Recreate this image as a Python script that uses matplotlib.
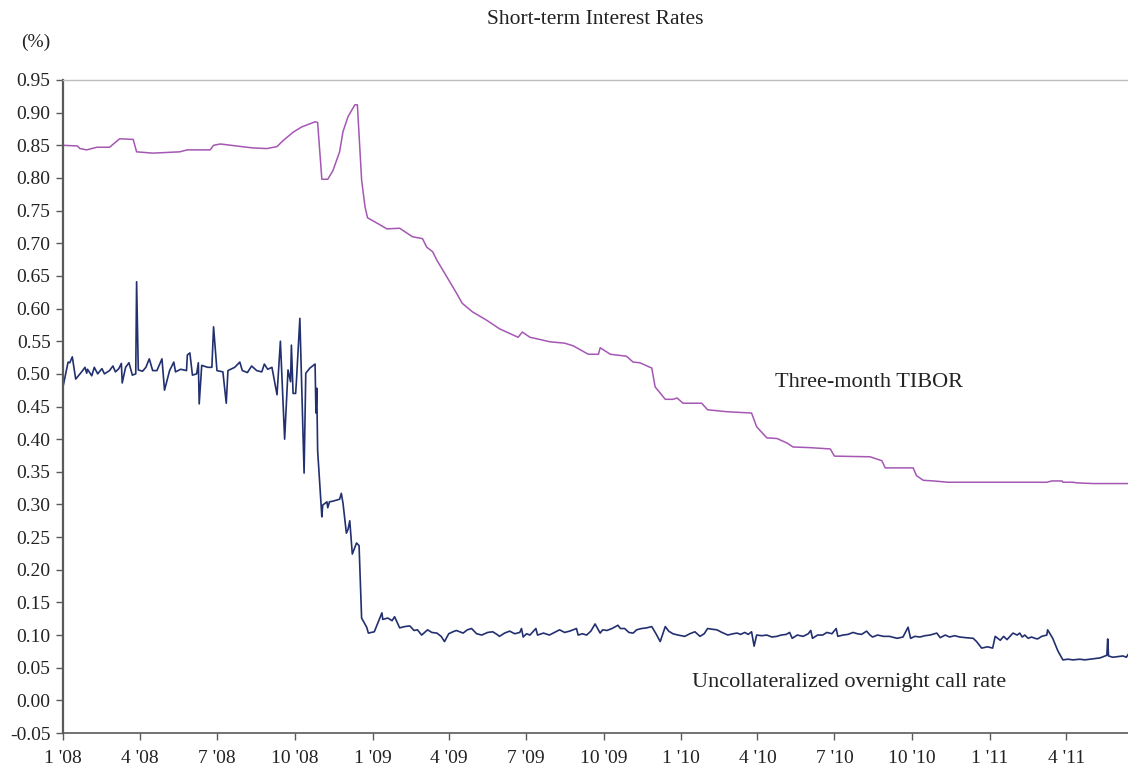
import matplotlib
matplotlib.use("Agg")
import matplotlib.pyplot as plt
import pandas as pd

plt.rcParams['font.family'] = ['Liberation Serif', 'DejaVu Serif']

# ---------------- data ----------------
tibor_dates = [
    "2008-01-01", "2008-01-18", "2008-01-21", "2008-01-29", "2008-02-10", "2008-02-25",
    "2008-03-08", "2008-03-24", "2008-03-28", "2008-04-16", "2008-05-18", "2008-05-27",
    "2008-06-23", "2008-06-27", "2008-07-05", "2008-08-12", "2008-08-29", "2008-09-10",
    "2008-09-17", "2008-09-29", "2008-10-09", "2008-10-25", "2008-10-28", "2008-11-02",
    "2008-11-09", "2008-11-15", "2008-11-23", "2008-11-27", "2008-12-03", "2008-12-11",
    "2008-12-14", "2008-12-19", "2008-12-23", "2008-12-26", "2009-01-06", "2009-01-18",
    "2009-02-02", "2009-02-17", "2009-03-01", "2009-03-06", "2009-03-13", "2009-03-18",
    "2009-03-30", "2009-04-10", "2009-04-17", "2009-04-29", "2009-05-16", "2009-05-31",
    "2009-06-22", "2009-06-27", "2009-07-06", "2009-07-20", "2009-07-30", "2009-08-16",
    "2009-08-26", "2009-09-13", "2009-09-25", "2009-09-27", "2009-10-09", "2009-10-28",
    "2009-11-05", "2009-11-13", "2009-11-25", "2009-11-27", "2009-12-01", "2009-12-13",
    "2009-12-22", "2009-12-27", "2010-01-03", "2010-01-25", "2010-02-01", "2010-02-24",
    "2010-03-25", "2010-03-31", "2010-04-12", "2010-04-24", "2010-05-06", "2010-05-13",
    "2010-06-02", "2010-06-26", "2010-07-01", "2010-08-12", "2010-08-26", "2010-08-30",
    "2010-10-02", "2010-10-06", "2010-10-14", "2010-10-26", "2010-11-12", "2011-03-09",
    "2011-03-15", "2011-03-27", "2011-03-28", "2011-04-09", "2011-04-14", "2011-05-03",
    "2011-06-13",
]
tibor_values = [
    0.850, 0.849, 0.845, 0.843, 0.847, 0.847,
    0.860, 0.859, 0.840, 0.838, 0.840, 0.843,
    0.843, 0.850, 0.852, 0.846, 0.845, 0.848,
    0.857, 0.870, 0.878, 0.886, 0.885, 0.798,
    0.798, 0.811, 0.840, 0.871, 0.894, 0.912,
    0.912, 0.797, 0.756, 0.739, 0.731, 0.722,
    0.723, 0.710, 0.707, 0.694, 0.687, 0.674,
    0.648, 0.624, 0.608, 0.595, 0.582, 0.569,
    0.556, 0.564, 0.556, 0.552, 0.549, 0.547,
    0.543, 0.530, 0.530, 0.540, 0.530, 0.527,
    0.518, 0.517, 0.510, 0.509, 0.480, 0.461,
    0.461, 0.463, 0.455, 0.455, 0.445, 0.442,
    0.440, 0.419, 0.402, 0.401, 0.394, 0.388,
    0.387, 0.385, 0.374, 0.373, 0.367, 0.356,
    0.356, 0.344, 0.337, 0.336, 0.334, 0.334,
    0.336, 0.336, 0.334, 0.334, 0.333, 0.332,
    0.332,
]

call_dates = [
    "2008-01-01", "2008-01-07", "2008-01-09", "2008-01-12", "2008-01-16", "2008-01-21",
    "2008-01-23", "2008-01-27", "2008-01-29", "2008-01-30", "2008-02-04", "2008-02-07",
    "2008-02-11", "2008-02-16", "2008-02-19", "2008-02-25", "2008-02-29", "2008-03-03",
    "2008-03-07", "2008-03-10", "2008-03-11", "2008-03-15", "2008-03-19", "2008-03-23",
    "2008-03-27", "2008-03-28", "2008-03-30", "2008-04-04", "2008-04-08", "2008-04-12",
    "2008-04-16", "2008-04-21", "2008-04-27", "2008-04-30", "2008-05-06", "2008-05-11",
    "2008-05-13", "2008-05-19", "2008-05-26", "2008-05-27", "2008-05-30", "2008-06-02",
    "2008-06-07", "2008-06-09", "2008-06-10", "2008-06-13", "2008-06-20", "2008-06-25",
    "2008-06-27", "2008-07-01", "2008-07-08", "2008-07-12", "2008-07-14", "2008-07-22",
    "2008-07-28", "2008-07-31", "2008-08-06", "2008-08-11", "2008-08-17", "2008-08-23",
    "2008-08-26", "2008-08-30", "2008-09-04", "2008-09-10", "2008-09-14", "2008-09-19",
    "2008-09-23", "2008-09-26", "2008-09-27", "2008-09-29", "2008-10-02", "2008-10-03",
    "2008-10-07", "2008-10-12", "2008-10-14", "2008-10-19", "2008-10-25", "2008-10-26",
    "2008-10-27", "2008-10-28", "2008-11-02", "2008-11-03", "2008-11-08", "2008-11-09",
    "2008-11-11", "2008-11-15", "2008-11-23", "2008-11-25", "2008-11-27", "2008-12-01",
    "2008-12-03", "2008-12-05", "2008-12-08", "2008-12-13", "2008-12-16", "2008-12-19",
    "2008-12-25", "2008-12-27", "2009-01-03", "2009-01-12", "2009-01-13", "2009-01-19",
    "2009-01-24", "2009-01-27", "2009-02-02", "2009-02-08", "2009-02-14", "2009-02-19",
    "2009-02-23", "2009-02-28", "2009-03-07", "2009-03-12", "2009-03-18", "2009-03-23",
    "2009-03-27", "2009-04-01", "2009-04-06", "2009-04-10", "2009-04-18", "2009-04-23",
    "2009-04-28", "2009-05-04", "2009-05-10", "2009-05-17", "2009-05-23", "2009-05-28",
    "2009-05-31", "2009-06-06", "2009-06-12", "2009-06-18", "2009-06-24", "2009-06-26",
    "2009-06-28", "2009-07-02", "2009-07-06", "2009-07-13", "2009-07-15", "2009-07-22",
    "2009-07-29", "2009-08-04", "2009-08-10", "2009-08-16", "2009-08-22", "2009-08-30",
    "2009-09-01", "2009-09-06", "2009-09-11", "2009-09-16", "2009-09-21", "2009-09-27",
    "2009-09-30", "2009-10-05", "2009-10-11", "2009-10-18", "2009-10-21", "2009-10-26",
    "2009-10-31", "2009-11-05", "2009-11-09", "2009-11-15", "2009-11-21", "2009-11-27",
    "2009-12-02", "2009-12-07", "2009-12-13", "2009-12-17", "2009-12-22", "2009-12-28",
    "2010-01-05", "2010-01-11", "2010-01-17", "2010-01-23", "2010-01-28", "2010-02-01",
    "2010-02-06", "2010-02-12", "2010-02-18", "2010-02-25", "2010-03-03", "2010-03-08",
    "2010-03-12", "2010-03-17", "2010-03-21", "2010-03-25", "2010-03-28", "2010-03-31",
    "2010-04-06", "2010-04-12", "2010-04-18", "2010-04-24", "2010-04-29", "2010-05-05",
    "2010-05-09", "2010-05-12", "2010-05-18", "2010-05-25", "2010-05-31", "2010-06-03",
    "2010-06-05", "2010-06-11", "2010-06-17", "2010-06-22", "2010-06-28", "2010-07-03",
    "2010-07-05", "2010-07-11", "2010-07-17", "2010-07-23", "2010-07-28", "2010-08-02",
    "2010-08-08", "2010-08-12", "2010-08-15", "2010-08-21", "2010-08-28", "2010-09-04",
    "2010-09-13", "2010-09-20", "2010-09-26", "2010-09-29", "2010-10-04", "2010-10-10",
    "2010-10-16", "2010-10-22", "2010-10-30", "2010-11-03", "2010-11-09", "2010-11-14",
    "2010-11-20", "2010-11-26", "2010-12-03", "2010-12-12", "2010-12-16", "2010-12-22",
    "2010-12-29", "2011-01-04", "2011-01-07", "2011-01-13", "2011-01-17", "2011-01-21",
    "2011-01-26", "2011-01-28", "2011-02-02", "2011-02-05", "2011-02-08", "2011-02-11",
    "2011-02-15", "2011-02-19", "2011-02-23", "2011-02-26", "2011-03-03", "2011-03-09",
    "2011-03-10", "2011-03-16", "2011-03-22", "2011-03-28", "2011-04-03", "2011-04-09",
    "2011-04-17", "2011-04-23", "2011-04-29", "2011-05-05", "2011-05-11", "2011-05-15",
    "2011-05-19", "2011-05-20", "2011-05-21", "2011-05-26", "2011-06-01", "2011-06-07",
    "2011-06-11", "2011-06-13",
]
call_values = [
    0.480, 0.518, 0.517, 0.526, 0.492, 0.500,
    0.503, 0.510, 0.501, 0.507, 0.497, 0.510,
    0.500, 0.508, 0.500, 0.505, 0.512, 0.503,
    0.508, 0.516, 0.486, 0.510, 0.517, 0.498,
    0.500, 0.641, 0.506, 0.504, 0.510, 0.523,
    0.505, 0.505, 0.523, 0.475, 0.505, 0.518,
    0.503, 0.507, 0.505, 0.529, 0.532, 0.498,
    0.500, 0.517, 0.454, 0.513, 0.510, 0.510,
    0.572, 0.505, 0.503, 0.455, 0.505, 0.510,
    0.518, 0.505, 0.502, 0.512, 0.505, 0.503,
    0.515, 0.507, 0.510, 0.468, 0.550, 0.400,
    0.506, 0.488, 0.544, 0.470, 0.470, 0.490,
    0.585, 0.348, 0.501, 0.509, 0.515, 0.440,
    0.478, 0.383, 0.281, 0.299, 0.304, 0.295,
    0.304, 0.305, 0.308, 0.317, 0.302, 0.256,
    0.262, 0.275, 0.224, 0.241, 0.237, 0.126,
    0.112, 0.103, 0.105, 0.134, 0.124, 0.126,
    0.122, 0.128, 0.111, 0.113, 0.114, 0.107,
    0.108, 0.100, 0.108, 0.104, 0.103, 0.098,
    0.090, 0.102, 0.105, 0.107, 0.103, 0.108,
    0.110, 0.102, 0.100, 0.104, 0.105, 0.101,
    0.098, 0.103, 0.106, 0.102, 0.104, 0.110,
    0.097, 0.102, 0.100, 0.110, 0.100, 0.103,
    0.100, 0.104, 0.108, 0.104, 0.106, 0.110,
    0.100, 0.102, 0.100, 0.106, 0.117, 0.103,
    0.108, 0.107, 0.110, 0.115, 0.110, 0.110,
    0.104, 0.103, 0.108, 0.110, 0.111, 0.113,
    0.102, 0.090, 0.113, 0.106, 0.102, 0.100,
    0.098, 0.102, 0.105, 0.098, 0.102, 0.110,
    0.109, 0.108, 0.104, 0.100, 0.102, 0.103,
    0.101, 0.104, 0.101, 0.105, 0.083, 0.100,
    0.099, 0.100, 0.097, 0.098, 0.100, 0.101,
    0.104, 0.095, 0.100, 0.098, 0.102, 0.107,
    0.095, 0.100, 0.100, 0.104, 0.102, 0.110,
    0.098, 0.100, 0.101, 0.104, 0.102, 0.101,
    0.106, 0.100, 0.097, 0.100, 0.098, 0.098,
    0.095, 0.097, 0.112, 0.095, 0.098, 0.097,
    0.099, 0.100, 0.103, 0.096, 0.100, 0.097,
    0.099, 0.097, 0.096, 0.095, 0.090, 0.080,
    0.082, 0.080, 0.098, 0.092, 0.098, 0.093,
    0.100, 0.103, 0.100, 0.103, 0.097, 0.100,
    0.095, 0.097, 0.095, 0.094, 0.098, 0.100,
    0.108, 0.095, 0.076, 0.062, 0.063, 0.062,
    0.063, 0.062, 0.063, 0.064, 0.065, 0.067,
    0.069, 0.094, 0.068, 0.066, 0.067, 0.068,
    0.066, 0.070,
]

tick_dates = ["2008-01-01", "2008-04-01", "2008-07-01", "2008-10-01",
              "2009-01-01", "2009-04-01", "2009-07-01", "2009-10-01",
              "2010-01-01", "2010-04-01", "2010-07-01", "2010-10-01",
              "2011-01-01", "2011-04-01"]
tick_labels = ["1 '08", "4 '08", "7 '08", "10 '08", "1 '09", "4 '09", "7 '09",
               "10 '09", "1 '10", "4 '10", "7 '10", "10 '10", "1 '11", "4 '11"]
y_ticks = [-0.05, 0.00, 0.05, 0.10, 0.15, 0.20, 0.25, 0.30, 0.35, 0.40, 0.45,
           0.50, 0.55, 0.60, 0.65, 0.70, 0.75, 0.80, 0.85, 0.90, 0.95]

# ---------------- plot ----------------
fig = plt.figure(figsize=(11.28, 7.70), dpi=100)
ax = fig.add_axes([63 / 1128, 1 - 733 / 770, 1 - 63 / 1128, (733 - 80) / 770])

ax.plot(pd.to_datetime(tibor_dates), tibor_values, color="#A457B3", lw=1.1)
ax.plot(pd.to_datetime(call_dates), call_values, color="#22306F", lw=1.2)

ax.set_xlim(pd.Timestamp("2008-01-01"), pd.Timestamp("2011-06-13"))
ax.set_ylim(-0.05, 0.95)
ax.set_yticks(y_ticks)
ax.set_yticklabels([f"{v:.2f}" for v in y_ticks])
ax.set_xticks(pd.to_datetime(tick_dates))
ax.set_xticklabels(tick_labels)

ax.spines["right"].set_visible(False)
ax.spines["top"].set_color("#BDBDBD")
ax.spines["top"].set_linewidth(1.0)
ax.spines["left"].set_color("#5A5A5A")
ax.spines["left"].set_linewidth(1.6)
ax.spines["bottom"].set_color("#5A5A5A")
ax.spines["bottom"].set_linewidth(1.2)
ax.tick_params(axis="both", direction="out", length=5, width=1.0, color="#5A5A5A",
               labelsize=14, labelcolor="#222222")
ax.tick_params(axis="x", pad=7)
ax.tick_params(axis="y", pad=4)

fig.text(595 / 1128, 1 - 20 / 770, "Short-term Interest Rates", ha="center", va="center",
         fontsize=15.5, color="#222222")
fig.text(36 / 1128, 1 - 42 / 770, "(%)", ha="center", va="center",
         fontsize=14, color="#222222")

ax.text(pd.Timestamp("2010-04-22"), 0.4875, "Three-month TIBOR", ha="left", va="center",
        fontsize=16, color="#222222")
ax.text(pd.Timestamp("2010-01-13"), 0.0266, "Uncollateralized overnight call rate",
        ha="left", va="center", fontsize=16, color="#222222")

fig.savefig("out.png", dpi=100)
